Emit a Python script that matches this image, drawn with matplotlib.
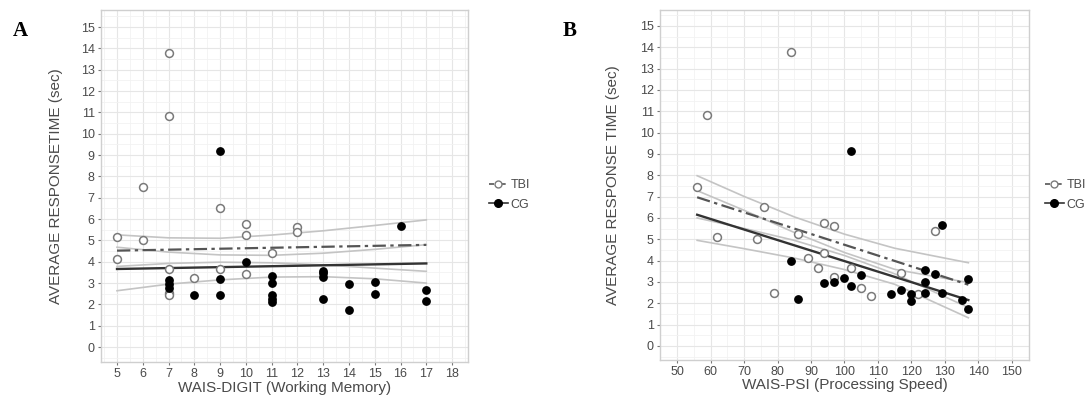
import matplotlib
matplotlib.use("Agg")
import matplotlib.pyplot as plt
from matplotlib.lines import Line2D
from matplotlib.ticker import MultipleLocator

plt.rcParams['font.family'] = ['Liberation Sans', 'DejaVu Sans']

# ---- panel A : WAIS-DIGIT ----
a_tbi_x = [5, 5, 6, 6, 7, 7, 7, 7, 7, 8, 9, 9, 10, 10, 10, 11, 12, 12]
a_tbi_y = [5.15, 4.13, 7.48, 5.02, 13.78, 10.83, 3.68, 2.55, 2.45, 3.22, 6.52, 3.66, 5.76, 5.26, 3.41, 4.4, 5.65, 5.41]
a_cg_x = [7, 7, 7, 8, 9, 9, 9, 10, 11, 11, 11, 11, 11, 13, 13, 13, 13, 14, 14, 15, 15, 16, 17, 17]
a_cg_y = [3.15, 2.97, 2.78, 2.44, 9.17, 3.19, 2.44, 3.97, 3.35, 2.99, 2.44, 2.25, 2.1,
          3.57, 3.46, 3.3, 2.24, 2.94, 1.74, 3.04, 2.47, 5.68, 2.68, 2.17]
a_fit_x = [5, 17]
a_tbi_fit = [4.52, 4.79]
a_cg_fit = [3.66, 3.92]
a_band_x = [5, 7, 9, 11, 13, 15, 17]
a_tbi_hi = [5.26, 5.12, 5.1, 5.25, 5.45, 5.7, 5.96]
a_tbi_lo = [3.78, 3.92, 3.98, 3.95, 3.85, 3.7, 3.55]
a_cg_hi = [4.68, 4.45, 4.32, 4.3, 4.4, 4.58, 4.8]
a_cg_lo = [2.64, 2.95, 3.15, 3.28, 3.3, 3.2, 3.0]

# ---- panel B : WAIS-PSI ----
b_tbi_x = [84, 59, 56, 76, 62, 74, 86, 94, 97, 94, 89, 92, 102, 97, 79, 105, 108, 117, 122, 127]
b_tbi_y = [13.77, 10.83, 7.44, 6.5, 5.13, 5.0, 5.25, 5.74, 5.64, 4.38, 4.13, 3.66, 3.65, 3.25,
           2.47, 2.7, 2.34, 3.41, 2.44, 5.41]
b_cg_x = [102, 84, 86, 94, 97, 100, 102, 105, 114, 117, 120, 120, 124, 124, 124, 127, 129, 129, 135, 137, 137]
b_cg_y = [9.14, 3.97, 2.22, 2.94, 2.99, 3.17, 2.83, 3.33, 2.42, 2.63, 2.44, 2.11, 3.56, 3.02,
          2.47, 3.36, 5.67, 2.47, 2.16, 3.13, 1.73]
b_fit_x = [56, 137]
b_tbi_fit = [6.97, 2.87]
b_cg_fit = [6.15, 2.15]
b_band_x = [56, 70, 85, 100, 115, 137]
b_tbi_hi = [7.98, 7.01, 6.05, 5.24, 4.58, 3.9]
b_tbi_lo = [6.0, 5.51, 4.95, 4.24, 3.38, 1.8]
b_cg_hi = [7.28, 6.36, 5.32, 4.38, 3.59, 2.97]
b_cg_lo = [4.95, 4.56, 4.12, 3.58, 2.89, 1.32]

fig = plt.figure(figsize=(10.9, 4.16), dpi=100)
fig.patch.set_facecolor('white')

band_col = '#c4c4c4'
tbi_col = '#555555'
cg_col = '#333333'
txt_col = '#4a4a4a'


def style_axes(ax, xlim, ylim, xstep):
	ax.set_xlim(*xlim)
	ax.set_ylim(*ylim)
	ax.xaxis.set_major_locator(MultipleLocator(xstep))
	ax.xaxis.set_minor_locator(MultipleLocator(xstep / 2))
	ax.yaxis.set_major_locator(MultipleLocator(1))
	ax.yaxis.set_minor_locator(MultipleLocator(0.5))
	ax.grid(True, which='major', color='#e6e6e6', lw=0.8)
	ax.grid(True, which='minor', color='#f2f2f2', lw=0.6)
	ax.set_axisbelow(True)
	for s in ax.spines.values():
		s.set_color('#cfcfcf')
		s.set_linewidth(1.0)
	ax.tick_params(which='major', length=2.5, color='#777777', labelsize=9, labelcolor=txt_col, pad=2)
	ax.tick_params(which='minor', length=0)


def draw_panel(ax, tx, ty, cx, cy, fx, tfit, cfit, bx, thi, tlo, chi, clo):
	for arr in (thi, tlo, chi, clo):
		ax.plot(bx, arr, color=band_col, lw=1.2, zorder=2)
	ax.plot(fx, tfit, color=tbi_col, lw=1.6, dashes=(6, 2, 1.5, 2), zorder=3)
	ax.plot(fx, cfit, color=cg_col, lw=1.7, zorder=3)
	ax.scatter(tx, ty, s=32, facecolors='white', edgecolors='#7a7a7a', linewidths=1.1, zorder=4)
	ax.scatter(cx, cy, s=28, color='black', zorder=5)


axA = fig.add_axes([0.0927, 0.1298, 0.3367, 0.8462])
draw_panel(axA, a_tbi_x, a_tbi_y, a_cg_x, a_cg_y, a_fit_x, a_tbi_fit, a_cg_fit,
           a_band_x, a_tbi_hi, a_tbi_lo, a_cg_hi, a_cg_lo)
style_axes(axA, (4.38, 18.62), (-0.7, 15.8), 1)
axA.set_xlabel('WAIS-DIGIT (Working Memory)', fontsize=11, color=txt_col)
axA.set_ylabel('AVERAGE RESPONSETIME (sec)', fontsize=11, color=txt_col)
axA.xaxis.set_label_coords(0.5, -0.055)
axA.yaxis.set_label_coords(-0.105, 0.5)

axB = fig.add_axes([0.6055, 0.1346, 0.3385, 0.8414])
draw_panel(axB, b_tbi_x, b_tbi_y, b_cg_x, b_cg_y, b_fit_x, b_tbi_fit, b_cg_fit,
           b_band_x, b_tbi_hi, b_tbi_lo, b_cg_hi, b_cg_lo)
style_axes(axB, (44.9, 155.1), (-0.66, 15.75), 10)
axB.set_xlabel('WAIS-PSI (Processing Speed)', fontsize=11, color=txt_col)
axB.set_ylabel('AVERAGE RESPONSE TIME (sec)', fontsize=11, color=txt_col)
axB.xaxis.set_label_coords(0.5, -0.05)
axB.yaxis.set_label_coords(-0.108, 0.5)

handles = [
	Line2D([], [], color=tbi_col, lw=1.2, dashes=(3, 1.5, 1, 1.5), marker='o', markersize=5,
	       markerfacecolor='white', markeredgecolor='#7a7a7a'),
	Line2D([], [], color=cg_col, lw=1.2, marker='o', markersize=5.5, markerfacecolor='black',
	       markeredgecolor='black'),
]
for xa in (480, 1036):
	fig.legend(handles, ['TBI', 'CG'], loc='center left', bbox_to_anchor=(xa / 1090, 1 - 195 / 416),
	           frameon=False, fontsize=9, handlelength=1.5, handletextpad=0.25, labelspacing=0.6,
	           labelcolor=txt_col, borderpad=0.2)

fig.text(20 / 1090, 1 - 31 / 416, 'A', fontsize=15, fontweight='bold', family='Liberation Serif',
         ha='center', va='center')
fig.text(570 / 1090, 1 - 31 / 416, 'B', fontsize=15, fontweight='bold', family='Liberation Serif',
         ha='center', va='center')

plt.savefig('out.png', dpi=100)
